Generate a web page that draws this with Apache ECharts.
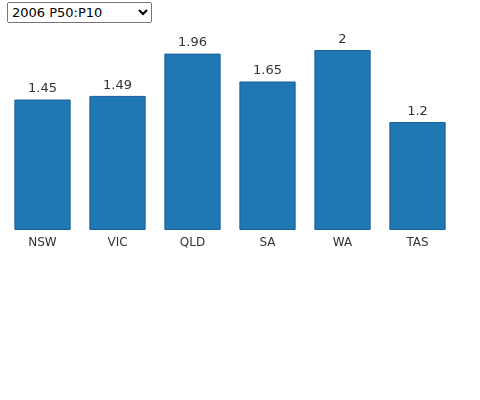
<!DOCTYPE html>
<html>
<head>
<meta charset="utf-8">
<script src="https://cdn.jsdelivr.net/npm/echarts@6/dist/echarts.min.js"></script>
<style>
  body { margin: 0; background: #fff; }
  #chart { position: absolute; left: 0; top: 0; width: 480px; height: 400px; }
  #pick { position: absolute; left: 7px; top: 2px; height: 21px; width: 145px; z-index: 2;
          font: 13px "DejaVu Sans", sans-serif; }
</style>
</head>
<body>
<select id="pick"><option>2006 P50:P10</option></select>
<div id="chart"></div>
<script>
    var states = ['NSW', 'VIC', 'QLD', 'SA', 'WA', 'TAS'];
    var ratios = [1.45, 1.49, 1.96, 1.65, 2, 1.2];

    var chart = echarts.init(document.getElementById('chart'));
    chart.setOption({
        animation: false,
        textStyle: { fontFamily: 'DejaVu Sans' },
        grid: { left: 5, width: 450, top: 50, bottom: 170 },
        xAxis: {
            type: 'category',
            data: states,
            axisLine: { show: false },
            axisTick: { show: false },
            axisLabel: { color: '#333', fontSize: 12, margin: 7 }
        },
        yAxis: { type: 'value', min: 0, max: 2, show: false },
        series: [{
            type: 'bar',
            data: ratios,
            barCategoryGap: '25%',
            itemStyle: { color: '#1f77b4', borderColor: '#17609a', borderWidth: 1 },
            label: { show: true, position: 'top', color: '#333', fontSize: 13, distance: 4 }
        }]
    });
</script>
</body>
</html>
